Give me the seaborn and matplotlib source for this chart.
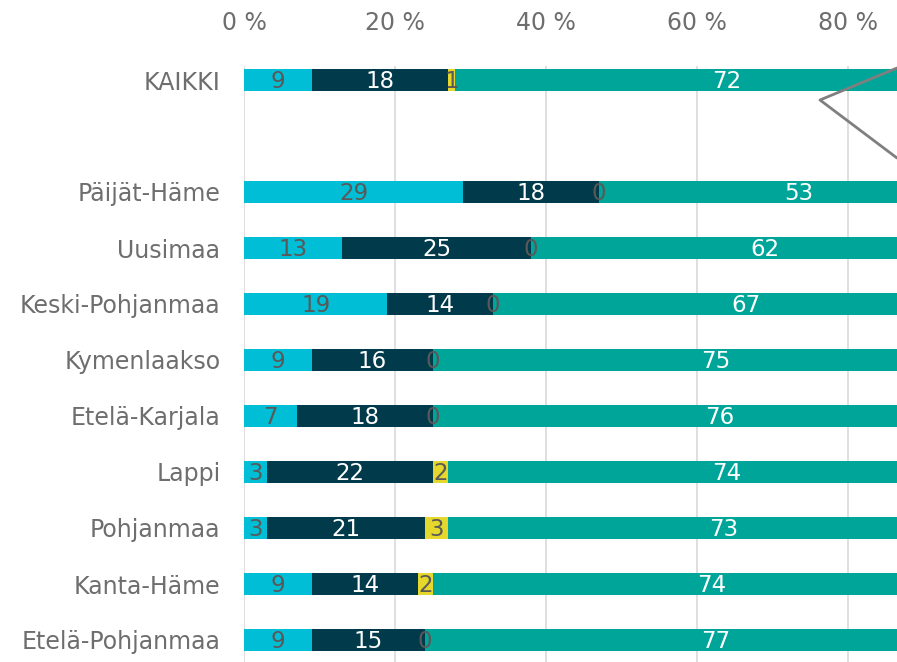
import numpy as np
import pandas as pd
import seaborn as sns
import matplotlib.pyplot as plt
from matplotlib.lines import Line2D

# Data (percent shares per region)
categories = ['KAIKKI', ' ', 'Päijät-Häme', 'Uusimaa', 'Keski-Pohjanmaa', 'Kymenlaakso',
              'Etelä-Karjala', 'Lappi', 'Pohjanmaa', 'Kanta-Häme', 'Etelä-Pohjanmaa']
part1 = [9, np.nan, 29, 13, 19, 9, 7, 3, 3, 9, 9]
part2 = [18, np.nan, 18, 25, 14, 16, 18, 22, 21, 14, 15]
part3 = [1, np.nan, 0, 0, 0, 0, 0, 2, 3, 2, 0]
part4 = [72, np.nan, 53, 62, 67, 75, 76, 74, 73, 74, 77]
tick_values = [0, 20, 40, 60, 80]

colors = ['#00BED6', '#003A4B', '#E6D72C', '#00A59A']
label_colors = ['#595959', 'white', '#595959', 'white']

df = pd.DataFrame({'cat': categories, 'p1': part1, 'p2': part2, 'p3': part3, 'p4': part4})
parts = ['p1', 'p2', 'p3', 'p4']
cum = df[parts].cumsum(axis=1)

sns.set_style('white')
plt.rcParams['font.family'] = ['DejaVu Sans']

fig = plt.figure(figsize=(8.97, 6.62), dpi=100)
ax = fig.add_axes([244 / 897, -6 / 662, 1 - 244 / 897, 602 / 662])

# stacked bars: draw cumulative totals from the outermost segment inward
for i in range(3, -1, -1):
    sns.barplot(x=cum[parts[i]], y=df['cat'], order=categories, orient='h',
                color=colors[i], width=0.4, saturation=1, linewidth=0, ax=ax, zorder=2)

# value labels
for row, cat in enumerate(categories):
    if cat.strip() == '':
        continue
    start = 0
    for i, p in enumerate(parts):
        v = df.loc[row, p]
        ax.text(start + v / 2, row + 0.03, f'{v:g}', ha='center', va='center',
                fontsize=16.5, color=label_colors[i] if v > 0 else '#595959', zorder=5)
        start += v

ax.set_xlim(0, 86.5)
ax.set_ylim(len(categories) - 0.5, -0.25)
ax.set_xticks(tick_values)
ax.set_xticklabels([f'{t} %' for t in tick_values])
ax.xaxis.tick_top()
ax.tick_params(axis='x', length=0, pad=22, labelsize=17, labelcolor='#6E6E6E')
ax.tick_params(axis='y', length=0, pad=17, labelsize=17, labelcolor='#6E6E6E')
ax.set_xlabel('')
ax.set_ylabel('')
ax.grid(axis='x', color='#D9D9D9', linewidth=1.2, zorder=0)
ax.set_axisbelow(True)
for s in ax.spines.values():
    s.set_visible(False)

# callout pointer at the right edge
fig.add_artist(Line2D([897 / 897, 820 / 897, 897 / 897],
                      [1 - 68 / 662, 1 - 100 / 662, 1 - 158 / 662],
                      transform=fig.transFigure, color='#7F7F7F', linewidth=2, zorder=10))

fig.savefig('out.png', dpi=100)
